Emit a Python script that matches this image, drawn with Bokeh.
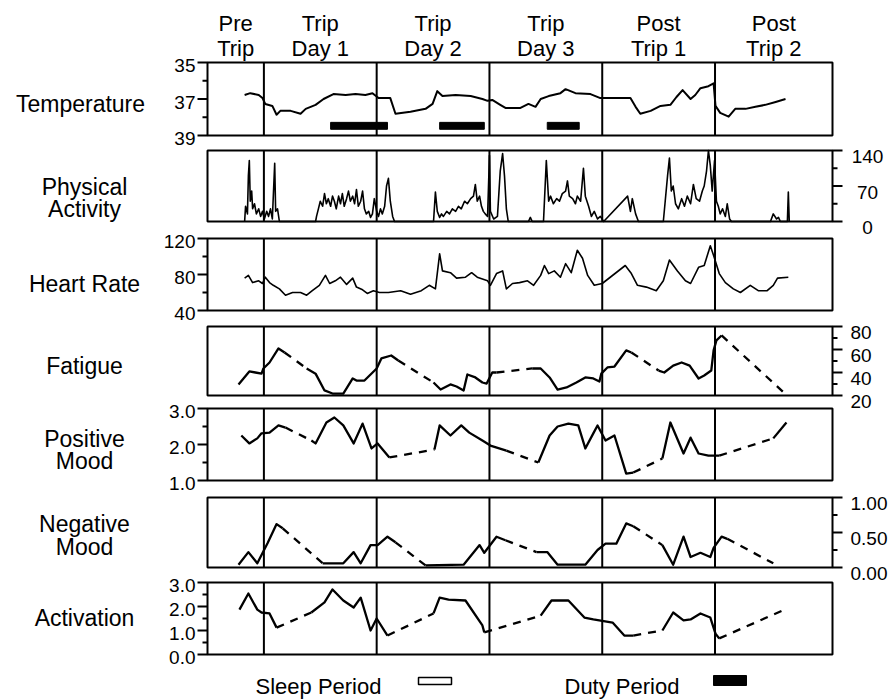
from bokeh.plotting import figure
from bokeh.models import Range1d
from bokeh.embed import file_html
from bokeh.resources import INLINE
from bokeh.core.properties import value

# ---------------- data (time in hours from start of record) ----------------
SECTION_BOUNDS = [0, 12, 36, 60, 84, 108, 133]
SECTION_TOP = ["Pre", "Trip", "Trip", "Trip", "Post", "Post"]
SECTION_BOTTOM = ["Trip", "Day 1", "Day 2", "Day 3", "Trip 1", "Trip 2"]

DUTY_PERIODS = [(26.2, 38.3), (49.4, 58.9), (72.3, 79.1)]

TEMPERATURE = [
    (7.9, 36.78), (9.1, 36.68), (10.9, 36.78), (11.7, 36.95), (12.3, 37.27), (13.8, 37.38),
    (14.7, 37.86), (15.5, 37.65), (17.7, 37.65), (19.8, 37.81), (20.9, 37.54), (23.0, 37.32),
    (24.7, 37.0), (26.8, 36.73), (29.4, 36.78), (31.5, 36.73), (33.6, 36.78), (35.1, 36.68),
    (36.4, 36.95), (38.9, 36.95), (40.0, 37.81), (43.2, 37.7), (46.4, 37.54), (47.9, 37.27),
    (48.9, 36.57), (50.0, 36.84), (52.8, 36.78), (56.0, 36.84), (58.5, 37.0), (59.6, 37.1),
    (60.6, 37.05), (62.3, 37.32), (63.4, 37.49), (66.6, 37.49), (68.3, 37.27), (69.8, 37.43),
    (70.9, 37.0), (72.6, 36.84), (75.1, 36.68), (76.2, 36.46), (78.3, 36.68), (81.5, 36.73),
    (83.6, 36.95), (90.0, 36.95), (91.1, 37.43), (92.1, 37.81), (94.3, 37.65), (96.4, 37.38),
    (98.5, 37.32), (99.8, 36.89), (101.1, 36.51), (102.8, 37.0), (103.8, 36.78), (104.9, 36.41),
    (106.6, 36.30), (107.7, 36.14), (108.1, 37.38), (109.1, 37.76), (110.9, 37.97), (112.3, 37.54),
    (114.5, 37.54), (116.6, 37.43), (118.7, 37.32), (120.9, 37.16), (123.0, 37.0),
]

ACTIVITY = [
    (7.9, 0), (8.1, 30), (8.5, 15), (8.7, 90), (8.9, 120), (9.1, 40), (9.4, 60), (9.6, 25),
    (10.0, 35), (10.4, 15), (10.9, 25), (11.3, 10), (11.7, 20), (12.1, 5), (12.6, 20), (13.0, 10),
    (13.4, 25), (13.8, 5), (14.3, 115), (14.5, 20), (14.9, 25), (15.3, 0), (23.0, 0), (23.2, 10),
    (23.6, 25), (24.0, 40), (24.5, 30), (24.9, 55), (25.3, 35), (25.7, 45), (26.2, 30), (26.6, 50),
    (27.0, 40), (27.4, 25), (27.9, 50), (28.3, 35), (28.7, 55), (29.1, 30), (29.6, 45), (30.0, 60),
    (30.4, 40), (30.9, 50), (31.3, 35), (31.7, 63), (32.1, 30), (32.6, 40), (33.0, 60), (33.4, 25),
    (33.8, 15), (34.3, 20), (34.7, 8), (35.1, 15), (35.5, 45), (36.0, 20), (36.4, 10), (36.8, 25),
    (37.2, 15), (37.7, 30), (38.1, 70), (38.5, 85), (38.9, 40), (39.4, 10), (39.8, 0), (48.1, 0),
    (48.5, 58), (48.9, 20), (49.4, 8), (49.8, 15), (50.2, 10), (50.9, 20), (51.5, 15), (52.1, 25),
    (52.8, 20), (53.4, 30), (54.0, 25), (54.7, 40), (55.3, 35), (56.0, 45), (56.6, 50), (57.0, 73),
    (57.4, 40), (57.9, 50), (58.3, 30), (58.7, 20), (59.1, 15), (59.6, 10), (60.0, 130), (60.2, 20),
    (60.9, 5), (61.7, 10), (62.3, 100), (62.8, 134), (63.2, 90), (63.6, 25), (64.0, 0), (68.3, 0),
    (68.7, 8), (69.1, 0), (71.5, 0), (72.1, 120), (72.6, 40), (73.0, 50), (73.6, 35), (74.3, 45),
    (74.9, 40), (75.5, 55), (76.2, 60), (76.6, 80), (77.0, 50), (77.7, 45), (78.3, 35), (78.7, 50),
    (79.4, 40), (80.0, 105), (80.4, 50), (81.1, 30), (81.7, 10), (82.3, 20), (83.0, 5), (83.6, 10),
    (84.3, 0), (89.4, 50), (90.0, 20), (90.4, 45), (91.1, 15), (91.7, 0), (97.0, 0), (97.4, 40),
    (97.9, 90), (98.3, 125), (98.7, 60), (99.1, 70), (99.6, 35), (100.2, 25), (100.9, 45),
    (101.5, 30), (102.1, 50), (102.8, 35), (103.4, 73), (104.0, 45), (104.7, 40), (105.3, 60),
    (105.7, 70), (106.2, 100), (106.6, 140), (107.0, 110), (107.4, 60), (107.9, 120), (108.3, 40),
    (108.7, 30), (109.1, 15), (109.6, 25), (110.2, 10), (110.6, 35), (111.1, 5), (111.5, 0),
    (119.8, 0), (120.4, 15), (121.1, 5), (121.5, 8), (121.9, 0), (123.4, 0), (123.6, 58), (123.8, 0),
]

HEART_RATE = [
    (7.9, 76), (8.7, 79), (9.6, 71), (10.9, 73), (11.7, 70), (12.3, 77), (13.2, 71), (14.0, 68),
    (15.3, 64), (16.6, 57), (18.1, 60), (19.8, 60), (21.1, 57), (22.3, 62), (23.8, 68), (25.1, 79),
    (26.0, 70), (27.2, 73), (28.3, 77), (29.6, 69), (30.9, 76), (31.7, 66), (33.0, 63), (34.0, 59),
    (35.3, 62), (36.6, 60), (38.5, 60), (41.1, 62), (43.2, 58), (45.5, 62), (47.2, 68), (48.5, 64),
    (49.4, 103), (50.0, 84), (51.7, 82), (53.0, 76), (54.9, 77), (56.2, 82), (57.4, 77), (59.6, 73),
    (60.2, 68), (61.5, 81), (62.8, 84), (63.6, 64), (64.9, 70), (66.4, 71), (68.1, 73), (69.4, 68),
    (70.9, 79), (71.7, 90), (72.6, 81), (73.8, 84), (75.1, 77), (76.2, 92), (77.4, 82), (78.7, 107),
    (79.8, 98), (80.9, 79), (82.3, 68), (84.0, 70), (88.9, 90), (90.2, 81), (91.5, 68), (93.4, 66),
    (95.5, 62), (97.0, 73), (98.3, 96), (100.0, 84), (101.7, 73), (102.8, 70), (104.5, 88),
    (105.7, 90), (107.0, 112), (107.7, 101), (108.9, 81), (110.2, 71), (111.9, 64), (113.4, 60),
    (115.5, 68), (117.2, 62), (119.1, 62), (120.4, 68), (121.3, 76), (123.6, 77),
]

# waking segments (solid); consecutive segments are joined by dashed lines
FATIGUE = [
    [(6.6, 29.6), (8.9, 40.9), (10.2, 40), (11.5, 39), (11.9, 43.5), (13.2, 48.7), (15.1, 60.9), (16.4, 57.4)],
    [(21.1, 43.5), (23.0, 39), (24.9, 24.4), (26.6, 21.7), (28.9, 21.7), (30.9, 34.8), (31.7, 33),
     (33.4, 33), (36.0, 43.5), (37.0, 52.2), (39.1, 54.8), (40.6, 50.4)],
    [(48.1, 31.3), (49.6, 25.2), (51.7, 29.6), (53.0, 27.8), (54.5, 24.4), (55.3, 38.3), (57.0, 35.7),
     (58.5, 31.3), (59.4, 30.4), (60.6, 40), (61.5, 40)],
    [(69.1, 43.5), (70.9, 43.5), (72.8, 35.7), (74.5, 25.2), (76.4, 27), (78.5, 31.3), (80.4, 35.7),
     (82.1, 34.8), (83.4, 32.2), (83.8, 39), (85.1, 44.4), (86.6, 45.2), (89.1, 59.2), (90.2, 57.4)],
    [(96.0, 41.7), (97.2, 40), (99.1, 46), (100.9, 48.7), (102.6, 46), (104.5, 34.8), (105.7, 37.4),
     (107.2, 41.7), (107.7, 59.2), (108.3, 67.9), (109.4, 72.2)],
    [(122.8, 22)],
]

POSITIVE_MOOD = [
    [(7.2, 2.25), (8.9, 2.03), (10.6, 2.17), (11.5, 2.31), (13.2, 2.33), (15.1, 2.53), (16.6, 2.47)],
    [(22.1, 2.11), (23.0, 2.03), (25.3, 2.61), (27.0, 2.75), (28.9, 2.53), (31.1, 2.03), (33.0, 2.58),
     (34.9, 1.89), (36.2, 2.03), (38.7, 1.64)],
    [(48.3, 1.86), (49.4, 2.53), (51.7, 2.25), (54.0, 2.53), (55.7, 2.33), (58.5, 2.11), (60.2, 1.97),
     (63.6, 1.83)],
    [(70.4, 1.5), (72.8, 2.25), (74.5, 2.5), (76.8, 2.58), (78.9, 2.53), (80.4, 1.89), (82.1, 2.31),
     (83.0, 2.53), (84.7, 2.11), (86.6, 2.25), (89.1, 1.19), (90.6, 1.22)],
    [(96.8, 1.61), (98.5, 2.61), (101.3, 1.75), (102.8, 2.19), (104.5, 1.75), (106.6, 1.69), (108.9, 1.69)],
    [(120.4, 2.17), (123.2, 2.61)],
]

NEGATIVE_MOOD = [
    [(6.6, 0.04), (8.7, 0.22), (10.6, 0.06), (12.8, 0.35), (14.7, 0.62), (16.0, 0.56)],
    [(24.5, 0.06), (28.9, 0.06), (31.1, 0.22), (32.6, 0.06), (34.7, 0.32), (36.2, 0.32), (38.3, 0.44),
     (40.0, 0.36)],
    [(46.4, 0.03), (54.5, 0.04), (57.9, 0.32), (58.9, 0.21), (61.5, 0.44), (63.4, 0.39)],
    [(70.0, 0.22), (72.3, 0.22), (74.5, 0.04), (80.4, 0.04), (83.0, 0.25), (84.7, 0.34), (87.0, 0.34),
     (89.1, 0.63), (90.6, 0.59)],
    [(96.8, 0.32), (99.1, 0.04), (101.3, 0.44), (102.8, 0.15), (104.9, 0.21), (107.0, 0.15),
     (107.7, 0.28), (109.4, 0.44), (110.6, 0.41)],
    [(120.4, 0.06)],
]

ACTIVATION = [
    [(6.8, 1.87), (8.7, 2.54), (10.6, 1.87), (11.5, 1.75), (13.2, 1.71), (14.7, 1.12)],
    [(22.1, 1.75), (24.9, 2.17), (26.6, 2.71), (28.9, 2.25), (31.1, 1.96), (32.6, 2.37), (34.7, 1.0),
     (36.0, 1.5), (38.3, 0.79)],
    [(48.1, 1.71), (49.4, 2.37), (51.3, 2.29), (54.9, 2.25), (58.5, 1.21), (58.9, 0.92)],
    [(70.9, 1.62), (73.2, 2.25), (76.8, 2.25), (80.2, 1.54), (82.1, 1.46), (86.2, 1.33), (88.7, 0.79),
     (90.6, 0.79)],
    [(96.8, 1.0), (99.1, 1.75), (101.3, 1.42), (102.8, 1.46), (104.9, 1.71), (107.0, 1.54), (108.1, 0.87),
     (108.9, 0.67)],
    [(122.8, 1.87)],
]

PANEL_NAMES = [["Temperature"], ["Physical", "Activity"], ["Heart Rate"], ["Fatigue"],
               ["Positive", "Mood"], ["Negative", "Mood"], ["Activation"]]

TEMP_TICKS, TEMP_MINOR, TEMP_LABELS = [35, 37, 39], [36, 38], ["35", "37", "39"]
ACT_TICKS, ACT_MINOR, ACT_LABELS = [0, 70, 140], [35, 105], ["0", "70", "140"]
HR_TICKS, HR_MINOR, HR_LABELS = [40, 80, 120], [60, 100], ["40", "80", "120"]
FAT_TICKS, FAT_MINOR, FAT_LABELS = [20, 40, 60, 80], [30, 50, 70], ["20", "40", "60", "80"]
POS_TICKS, POS_MINOR, POS_LABELS = [1, 2, 3], [1.5, 2.5], ["1.0", "2.0", "3.0"]
NEG_TICKS, NEG_MINOR, NEG_LABELS = [0, 0.5, 1], [0.25, 0.75], ["0.00", "0.50", "1.00"]
ACTV_TICKS, ACTV_MINOR, ACTV_LABELS = [0, 1, 2, 3], [0.5, 1.5, 2.5], ["0.0", "1.0", "2.0", "3.0"]

# ---------------- layout / styling ----------------
FONT = "Liberation Sans"
PAGE_W, PAGE_H = 895, 700
FRAME_L, FRAME_R = 207, 832
T_START, T_END = SECTION_BOUNDS[0], SECTION_BOUNDS[-1]
PX_PER_H = (FRAME_R - FRAME_L) / (T_END - T_START)


def hx(px):
    """page pixel column -> hours on the shared time scale"""
    return T_START + (px - FRAME_L) / PX_PER_H


p = figure(width=PAGE_W, height=PAGE_H, x_range=Range1d(hx(0), hx(PAGE_W)), y_range=Range1d(PAGE_H, 0),
           min_border_left=0, min_border_right=0, min_border_top=0, min_border_bottom=0,
           x_axis_location=None, y_axis_location=None, toolbar_location=None, tools="",
           output_backend="svg")
p.grid.visible = False
p.outline_line_color = None
p.background_fill_color = "white"
p.border_fill_color = "white"

# panel bands (page pixels, top/bottom) and value ranges (bottom value, top value)
PANELS = [
    dict(band=(62, 135), lo=39, hi=35, side="left", ticks=TEMP_TICKS, minor=TEMP_MINOR, labels=TEMP_LABELS),
    dict(band=(150, 221), lo=0, hi=140, side="right", ticks=ACT_TICKS, minor=ACT_MINOR, labels=ACT_LABELS,
         align="center"),
    dict(band=(238, 310), lo=40, hi=120, side="left", ticks=HR_TICKS, minor=HR_MINOR, labels=HR_LABELS),
    dict(band=(326, 395), lo=20, hi=80, side="right", ticks=FAT_TICKS, minor=FAT_MINOR, labels=FAT_LABELS),
    dict(band=(408, 480), lo=1, hi=3, side="left", ticks=POS_TICKS, minor=POS_MINOR, labels=POS_LABELS),
    dict(band=(497, 567), lo=0, hi=1, side="right", ticks=NEG_TICKS, minor=NEG_MINOR, labels=NEG_LABELS),
    dict(band=(582, 654), lo=0, hi=3, side="left", ticks=ACTV_TICKS, minor=ACTV_MINOR, labels=ACTV_LABELS),
]
NAME_Y = [[103], [186, 208], [283], [365], [438, 460], [523, 546], [617]]

ranges = {}
for i, pan in enumerate(PANELS):
    top, bot = pan["band"]
    k = (pan["hi"] - pan["lo"]) / (bot - top)
    ranges["panel%d" % i] = Range1d(pan["lo"] - (PAGE_H - bot) * k, pan["lo"] + bot * k)
p.extra_y_ranges = ranges

DIVIDERS = SECTION_BOUNDS[1:-1]
MAJOR_LEN, MINOR_LEN = 10, 5

for i, pan in enumerate(PANELS):
    rn = "panel%d" % i
    lo, hi = pan["lo"], pan["hi"]
    # frame box
    p.quad(left=[T_START], right=[T_END], bottom=[lo], top=[hi], fill_color=None,
           line_color="black", line_width=2, y_range_name=rn)
    # day dividers
    p.segment(x0=DIVIDERS, y0=[lo] * len(DIVIDERS), x1=DIVIDERS, y1=[hi] * len(DIVIDERS),
              line_color="black", line_width=2, y_range_name=rn)
    # axis ticks
    if pan["side"] == "left":
        base, sgn = T_START, -1
        lab_x, lab_align, lab_off = hx(FRAME_L - 12), "right", 3
    else:
        base, sgn = T_END, 1
        lab_align = pan.get("align", "left")
        lab_x = hx(FRAME_R + 35) if lab_align == "center" else hx(FRAME_R + 18)
        lab_off = 6
    p.segment(x0=[base] * len(pan["ticks"]), y0=pan["ticks"],
              x1=[base + sgn * MAJOR_LEN / PX_PER_H] * len(pan["ticks"]), y1=pan["ticks"],
              line_color="black", line_width=2, y_range_name=rn)
    p.segment(x0=[base] * len(pan["minor"]), y0=pan["minor"],
              x1=[base + sgn * MINOR_LEN / PX_PER_H] * len(pan["minor"]), y1=pan["minor"],
              line_color="black", line_width=2, y_range_name=rn)
    p.text(x=[lab_x] * len(pan["ticks"]), y=pan["ticks"], text=pan["labels"], y_offset=lab_off,
           text_font=value(FONT), text_font_size="19px", text_align=lab_align, text_baseline="middle",
           text_color="black", y_range_name=rn)


def draw_line(pts, rn, width):
    p.line([t for t, _ in pts], [v for _, v in pts], line_color="black", line_width=width,
           line_join="round", y_range_name=rn)


def draw_segments(segs, rn, width=2.3):
    xs = [[t for t, _ in s] for s in segs if len(s) > 1]
    ys = [[v for _, v in s] for s in segs if len(s) > 1]
    p.multi_line(xs=xs, ys=ys, line_color="black", line_width=width, line_join="round", y_range_name=rn)
    dx = [[a[-1][0], b[0][0]] for a, b in zip(segs[:-1], segs[1:])]
    dy = [[a[-1][1], b[0][1]] for a, b in zip(segs[:-1], segs[1:])]
    p.multi_line(xs=dx, ys=dy, line_color="black", line_width=width, line_dash="8 7", y_range_name=rn)


draw_line(TEMPERATURE, "panel0", 2)
p.quad(left=[a for a, _ in DUTY_PERIODS], right=[b for _, b in DUTY_PERIODS],
       bottom=38.66, top=38.28, fill_color="black", line_color="black", y_range_name="panel0")
draw_line(ACTIVITY, "panel1", 1.6)
draw_line(HEART_RATE, "panel2", 1.6)
draw_segments(FATIGUE, "panel3")
draw_segments(POSITIVE_MOOD, "panel4")
draw_segments(NEGATIVE_MOOD, "panel5")
draw_segments(ACTIVATION, "panel6")

# column headers (section names) centred over each section
centers = [(a + b) / 2 for a, b in zip(SECTION_BOUNDS[:-1], SECTION_BOUNDS[1:])]
p.text(x=centers, y=[23] * len(centers), text=SECTION_TOP, text_font=value(FONT),
       text_font_size="22px", text_align="center", text_baseline="middle", text_color="black")
p.text(x=centers, y=[48] * len(centers), text=SECTION_BOTTOM, text_font=value(FONT),
       text_font_size="22px", text_align="center", text_baseline="middle", text_color="black")

# row names on the left
lx, ly, lt = [], [], []
for names, ys in zip(PANEL_NAMES, NAME_Y):
    for n, y in zip(names, ys):
        lx.append(hx(80) if n == "Temperature" else hx(84))
        ly.append(y)
        lt.append(n)
p.text(x=lx, y=ly, text=lt, text_font=value(FONT), text_font_size="23px",
       text_align="center", text_baseline="middle", text_color="black")

# key at the bottom
p.text(x=[hx(255), hx(564)], y=[686, 686], text=["Sleep Period", "Duty Period"], text_font=value(FONT),
       text_font_size="22px", text_align="left", text_baseline="middle", text_color="black")
p.quad(left=[hx(418)], right=[hx(451)], top=[677], bottom=[684], fill_color="white",
       line_color="black", line_width=1.5)
p.quad(left=[hx(713)], right=[hx(746)], top=[675], bottom=[685], fill_color="black", line_color="black")

open("out.html", "w").write(file_html(p, INLINE))
